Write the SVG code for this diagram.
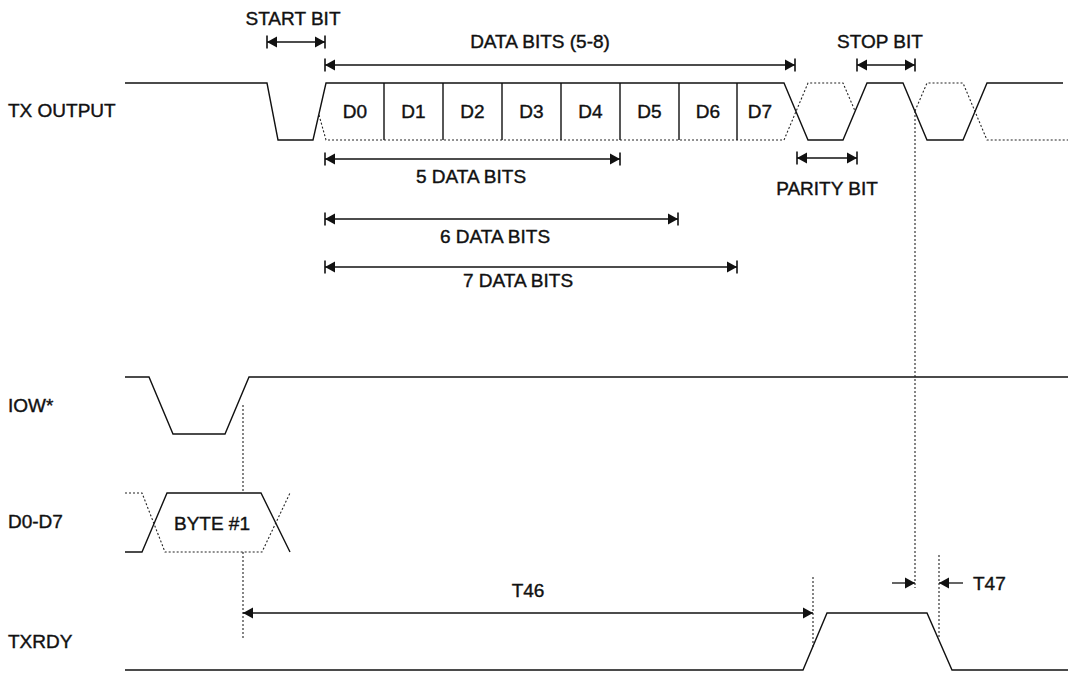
<svg xmlns="http://www.w3.org/2000/svg" width="1071" height="673" viewBox="0 0 1071 673">
<style>
text{font-family:"Liberation Sans",Arial,sans-serif;font-size:19px;fill:#111;stroke:#111;stroke-width:0.4}
.m{text-anchor:middle}
.w{fill:none;stroke:#111;stroke-width:1.4}
.d{fill:none;stroke:#222;stroke-width:1.1;stroke-dasharray:2 2}
.a{fill:none;stroke:#111;stroke-width:1.3}
</style>
<defs>
<marker id="bar" markerUnits="userSpaceOnUse" viewBox="-11 -8 13 16" refX="0" refY="0" markerWidth="13" markerHeight="16" orient="auto-start-reverse">
<path d="M0,0 L-10,-5.5 L-10,5.5 Z" fill="#111"/>
<line x1="0" y1="-6.5" x2="0" y2="6.5" stroke="#111" stroke-width="1.6"/>
</marker>
<marker id="tri" markerUnits="userSpaceOnUse" viewBox="-11 -7 12 14" refX="0" refY="0" markerWidth="12" markerHeight="14" orient="auto-start-reverse">
<path d="M0,0 L-10,-5.5 L-10,5.5 Z" fill="#111"/>
</marker>
</defs>

<g id="labels">
<text x="8" y="117">TX OUTPUT</text>
<text x="8" y="412">IOW*</text>
<text x="8" y="528">D0-D7</text>
<text x="8" y="648">TXRDY</text>
</g>

<g id="tx-output">
<path class="w" d="M125,83 H267 L278,140 H313 L326,83 H784 L808,140 H843 L867,83 H903 L927,140 H963 L987,83 H1063"/>
<path class="w" d="M384,83 V140 M443,83 V140 M502,83 V140 M561,83 V140 M620,83 V140 M679,83 V140 M737,83 V140"/>
<path class="d" d="M319,115 L326,140 H784 L808,83 H843 L855,111"/>
<path class="d" d="M915,111 L927,83 H963 L987,140 H1068"/>
<text class="m" x="355" y="118">D0</text>
<text class="m" x="413.5" y="118">D1</text>
<text class="m" x="472.5" y="118">D2</text>
<text class="m" x="531.5" y="118">D3</text>
<text class="m" x="590.5" y="118">D4</text>
<text class="m" x="649.5" y="118">D5</text>
<text class="m" x="708" y="118">D6</text>
<text class="m" x="760" y="118">D7</text>
</g>

<g id="iow">
<path class="w" d="M125,377 H149 L173,434 H225 L249,377 H1068"/>
</g>

<g id="data-bus">
<path class="w" d="M125,552 H142 L167,493 H261 L290,552"/>
<path class="d" d="M125,493 H142 L165,552 H262 L290,493"/>
<text class="m" x="212" y="530">BYTE #1</text>
</g>

<g id="txrdy">
<path class="w" d="M125,670 H803 L827,613 H927 L952,670 H1068"/>
</g>

<g id="connectors">
<line class="d" x1="243" y1="405" x2="243" y2="493"/>
<line class="d" x1="243" y1="552" x2="243" y2="640"/>
<line class="d" x1="915" y1="111" x2="915" y2="588"/>
<line class="d" x1="813" y1="577" x2="813" y2="647"/>
<line class="d" x1="939" y1="555" x2="939" y2="637"/>

<line class="a" x1="267" y1="42" x2="325" y2="42" marker-start="url(#bar)" marker-end="url(#bar)"/>
<line class="a" x1="325" y1="65" x2="795" y2="65" marker-start="url(#bar)" marker-end="url(#bar)"/>
<line class="a" x1="857" y1="65" x2="915" y2="65" marker-start="url(#bar)" marker-end="url(#bar)"/>
<line class="a" x1="797" y1="158" x2="857" y2="158" marker-start="url(#bar)" marker-end="url(#bar)"/>
<line class="a" x1="325" y1="159" x2="620" y2="159" marker-start="url(#bar)" marker-end="url(#bar)"/>
<line class="a" x1="325" y1="219" x2="678" y2="219" marker-start="url(#bar)" marker-end="url(#bar)"/>
<line class="a" x1="325" y1="267" x2="737" y2="267" marker-start="url(#bar)" marker-end="url(#bar)"/>
<line class="a" x1="243" y1="613" x2="813" y2="613" marker-start="url(#tri)" marker-end="url(#tri)"/>
<line class="a" x1="892" y1="583" x2="915" y2="583" marker-end="url(#tri)"/>
<line class="a" x1="963" y1="583" x2="939" y2="583" marker-end="url(#tri)"/>

<text class="m" x="293" y="25">START BIT</text>
<text class="m" x="540" y="48">DATA BITS (5-8)</text>
<text class="m" x="880" y="48">STOP BIT</text>
<text class="m" x="827" y="195">PARITY BIT</text>
<text class="m" x="471" y="183">5 DATA BITS</text>
<text class="m" x="495" y="243">6 DATA BITS</text>
<text class="m" x="518" y="287">7 DATA BITS</text>
<text class="m" x="528" y="597">T46</text>
<text x="973" y="590">T47</text>
</g>
</svg>
